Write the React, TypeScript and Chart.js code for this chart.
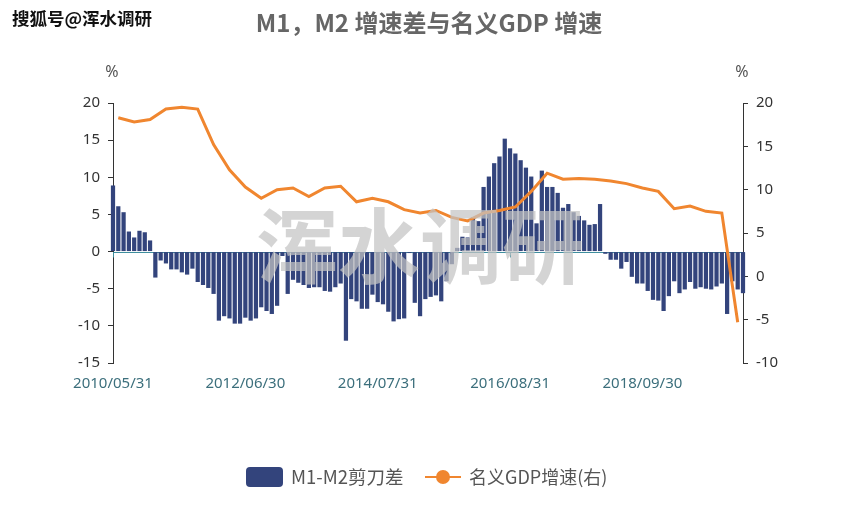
import React, { useEffect, useRef } from 'react';
import { Chart, registerables } from 'chart.js';

Chart.register(...registerables);

// ---- categories: month-end dates from 2010/05 to 2020/04 ----
const firstYear = 2010;
const firstMonth = 5;
const monthCount = 120;
const categories: string[] = [];
for (let k = 0; k < monthCount; k++) {
  const mi = firstMonth - 1 + k;
  const y = firstYear + Math.floor(mi / 12);
  const m = (mi % 12) + 1;
  const d = new Date(y, m, 0).getDate();
  categories.push(`${y}/${String(m).padStart(2, '0')}/${String(d).padStart(2, '0')}`);
}
const xLabelEvery = 25;

// ---- M1-M2 growth gap (monthly, %) ----
const gap2010 = [8.9, 6.1, 5.3, 2.7, 1.9, 2.8, 2.6, 1.5];
const gap2011 = [-3.5, -1.2, -1.6, -2.4, -2.4, -2.8, -3.1, -2.3, -4.1, -4.5, -4.9, -5.7];
const gap2012 = [-9.3, -8.7, -9.0, -9.7, -9.7, -8.9, -9.3, -9.0, -7.5, -8.0, -8.4, -7.3];
const gap2013 = [-0.6, -5.7, -3.8, -4.2, -4.5, -4.9, -4.8, -4.8, -5.3, -5.4, -4.8, -4.3];
const gap2014 = [-12.0, -6.4, -6.7, -7.7, -7.7, -5.8, -6.8, -7.1, -8.1, -9.4, -9.1, -9.0];
const gap2015 = [-0.2, -6.9, -8.7, -6.4, -6.1, -5.9, -6.7, -4.0, -1.7, 0.5, 2.0, 1.9];
const gap2016 = [4.6, 4.1, 8.7, 10.1, 11.9, 12.8, 15.2, 13.9, 13.2, 12.3, 11.3, 10.1];
const gap2017 = [3.8, 10.9, 8.7, 8.7, 7.9, 5.9, 6.4, 5.3, 4.8, 4.2, 3.6, 3.7];
const gap2018 = [6.4, -0.3, -1.1, -1.1, -2.3, -1.4, -3.4, -4.3, -4.3, -5.3, -6.5, -6.6];
const gap2019 = [-8.0, -6.0, -4.0, -5.6, -5.1, -4.1, -5.0, -4.8, -5.0, -5.1, -4.7, -4.3];
const gap2020 = [-8.4, -4.0, -5.1, -5.6];
const m1m2Gap = [
  ...gap2010, ...gap2011, ...gap2012, ...gap2013, ...gap2014, ...gap2015,
  ...gap2016, ...gap2017, ...gap2018, ...gap2019, ...gap2020,
];

// ---- nominal GDP growth (quarterly, %, right axis) ----
const gdpDates = [
  '2010/06/30', '2010/09/30', '2010/12/31',
  '2011/03/31', '2011/06/30', '2011/09/30', '2011/12/31',
  '2012/03/31', '2012/06/30', '2012/09/30', '2012/12/31',
  '2013/03/31', '2013/06/30', '2013/09/30', '2013/12/31',
  '2014/03/31', '2014/06/30', '2014/09/30', '2014/12/31',
  '2015/03/31', '2015/06/30', '2015/09/30', '2015/12/31',
  '2016/03/31', '2016/06/30', '2016/09/30', '2016/12/31',
  '2017/03/31', '2017/06/30', '2017/09/30', '2017/12/31',
  '2018/03/31', '2018/06/30', '2018/09/30', '2018/12/31',
  '2019/03/31', '2019/06/30', '2019/09/30', '2019/12/31',
  '2020/03/31',
];
const gdpGrowth = [
  18.3, 17.8, 18.1,
  19.3, 19.5, 19.3, 15.2,
  12.3, 10.3, 9.0, 10.0,
  10.2, 9.2, 10.2, 10.4,
  8.6, 9.0, 8.6, 7.7,
  7.3, 7.6, 6.8, 6.4,
  7.3, 7.6, 8.0, 9.8,
  11.9, 11.2, 11.3, 11.2,
  11.0, 10.7, 10.2, 9.8,
  7.8, 8.1, 7.5, 7.3,
  -5.3,
];

// ---- axes ----
const leftAxis = { min: -15, max: 20, step: 5 };
const rightAxis = { min: -10, max: 20, step: 5 };

const titleText = 'M1，M2 增速差与名义GDP 增速';
const barName = 'M1-M2剪刀差';
const lineName = '名义GDP增速(右)';
const unitText = '%';
const sourceText = '搜狐号@浑水调研';
const watermarkText = '浑水调研';

const BAR_COLOR = '#33447c';
const LINE_COLOR = '#f0862f';
const AXIS_TEAL = '#3f8e9e';
const LABEL_TEAL = '#3c6f7c';
const CJK = '"Noto Sans CJK SC", "Noto Sans", sans-serif';
const LATIN = '"Noto Sans", "Noto Sans CJK SC", sans-serif';

const decorPlugin = {
  id: 'decor',
  beforeDatasetsDraw(chart: any) {
    const { ctx, chartArea, scales } = chart;
    const y0 = Math.round(scales.y.getPixelForValue(0)) + 0.5;
    ctx.save();
    ctx.strokeStyle = AXIS_TEAL;
    ctx.lineWidth = 1;
    ctx.beginPath();
    ctx.moveTo(chartArea.left, y0);
    ctx.lineTo(chartArea.right, y0);
    for (let i = 0; i < categories.length; i += xLabelEvery) {
      const x = Math.round(scales.x.getPixelForValue(i)) + 0.5;
      ctx.moveTo(x, y0);
      ctx.lineTo(x, y0 + 5);
    }
    ctx.stroke();
    ctx.restore();
  },
  afterDraw(chart: any) {
    const { ctx, chartArea } = chart;
    ctx.save();

    // big watermark
    ctx.font = `bold 82px ${CJK}`;
    ctx.fillStyle = 'rgba(196,196,196,0.72)';
    ctx.textAlign = 'center';
    ctx.textBaseline = 'middle';
    ctx.fillText(watermarkText, 420, 246);

    // title
    ctx.font = `bold 24px ${CJK}`;
    ctx.fillStyle = '#666666';
    ctx.textAlign = 'center';
    ctx.textBaseline = 'middle';
    ctx.fillText(titleText, 429, 23);

    // source mark top-left
    ctx.font = `bold 17.5px ${CJK}`;
    ctx.textAlign = 'left';
    ctx.textBaseline = 'middle';
    ctx.lineWidth = 3;
    ctx.strokeStyle = '#ffffff';
    ctx.lineJoin = 'round';
    ctx.strokeText(sourceText, 12, 18);
    ctx.fillStyle = '#111111';
    ctx.fillText(sourceText, 12, 18);

    // unit names
    ctx.font = `16px ${LATIN}`;
    ctx.fillStyle = '#555555';
    ctx.textAlign = 'center';
    ctx.textBaseline = 'middle';
    ctx.fillText(unitText, chartArea.left - 1, 72);
    ctx.fillText(unitText, chartArea.right - 1, 72);

    // legend
    const ly = 477;
    ctx.fillStyle = BAR_COLOR;
    ctx.beginPath();
    (ctx as any).roundRect(246, ly - 10, 37, 20, 4);
    ctx.fill();
    ctx.font = `18.5px ${CJK}`;
    ctx.fillStyle = '#555555';
    ctx.textAlign = 'left';
    ctx.textBaseline = 'middle';
    ctx.fillText(barName, 291, ly);

    ctx.strokeStyle = LINE_COLOR;
    ctx.lineWidth = 2;
    ctx.beginPath();
    ctx.moveTo(425, ly);
    ctx.lineTo(461, ly);
    ctx.stroke();
    ctx.fillStyle = LINE_COLOR;
    ctx.beginPath();
    ctx.arc(443, ly, 7, 0, Math.PI * 2);
    ctx.fill();
    ctx.fillStyle = '#555555';
    ctx.font = `18px ${CJK}`;
    ctx.fillText(lineName, 469, ly);

    ctx.restore();
  },
};

export default function App() {
  const canvasRef = useRef<HTMLCanvasElement | null>(null);

  useEffect(() => {
    document.body.style.margin = '0';
    const canvas = canvasRef.current;
    if (!canvas) return;
    const chart = new Chart(canvas, {
      type: 'bar',
      data: {
        labels: categories,
        datasets: [
          {
            type: 'line',
            label: lineName,
            data: gdpDates.map((d, i) => ({ x: d, y: gdpGrowth[i] })) as any,
            yAxisID: 'y1',
            borderColor: LINE_COLOR,
            backgroundColor: LINE_COLOR,
            borderWidth: 3,
            pointRadius: 0,
            pointHoverRadius: 0,
            tension: 0,
            order: 1,
          } as any,
          {
            type: 'bar',
            label: barName,
            data: m1m2Gap,
            yAxisID: 'y',
            backgroundColor: BAR_COLOR,
            borderWidth: 0,
            barPercentage: 0.8,
            categoryPercentage: 1,
            clip: false,
            order: 2,
          } as any,
        ],
      },
      options: {
        animation: false,
        responsive: true,
        maintainAspectRatio: false,
        layout: { padding: { top: 103, left: 0, right: 0, bottom: 0 } },
        plugins: {
          legend: { display: false },
          title: { display: false },
          tooltip: { enabled: false },
        },
        scales: {
          x: {
            type: 'category',
            offset: false,
            grid: { display: false, drawTicks: false },
            border: { display: false },
            ticks: {
              autoSkip: false,
              maxRotation: 0,
              minRotation: 0,
              padding: 12,
              color: LABEL_TEAL,
              font: { family: LATIN, size: 15 },
              callback: (_v: any, i: number) => (i % xLabelEvery === 0 ? categories[i] : ''),
            },
            afterFit: (s: any) => { s.height = 145; },
          },
          y: {
            type: 'linear',
            position: 'left',
            min: leftAxis.min,
            max: leftAxis.max,
            grid: { drawOnChartArea: false, drawTicks: true, tickLength: 5, color: '#333333', tickColor: '#333333' },
            border: { display: true, color: '#333333', width: 1 },
            ticks: {
              stepSize: leftAxis.step,
              padding: 8,
              color: '#333333',
              font: { family: LATIN, size: 15 },
            },
            afterFit: (s: any) => { s.width = 113; },
          },
          y1: {
            type: 'linear',
            position: 'right',
            min: rightAxis.min,
            max: rightAxis.max,
            grid: { drawOnChartArea: false, drawTicks: true, tickLength: 5, color: '#333333', tickColor: '#333333' },
            border: { display: true, color: '#333333', width: 1 },
            ticks: {
              stepSize: rightAxis.step,
              padding: 8,
              color: '#333333',
              font: { family: LATIN, size: 15 },
            },
            afterFit: (s: any) => { s.width = 120; },
          },
        },
      },
      plugins: [decorPlugin],
    });
    return () => chart.destroy();
  }, []);

  return (
    <div style={{ width: 863, height: 508, position: 'relative', background: '#ffffff' }}>
      <canvas ref={canvasRef} />
    </div>
  );
}
